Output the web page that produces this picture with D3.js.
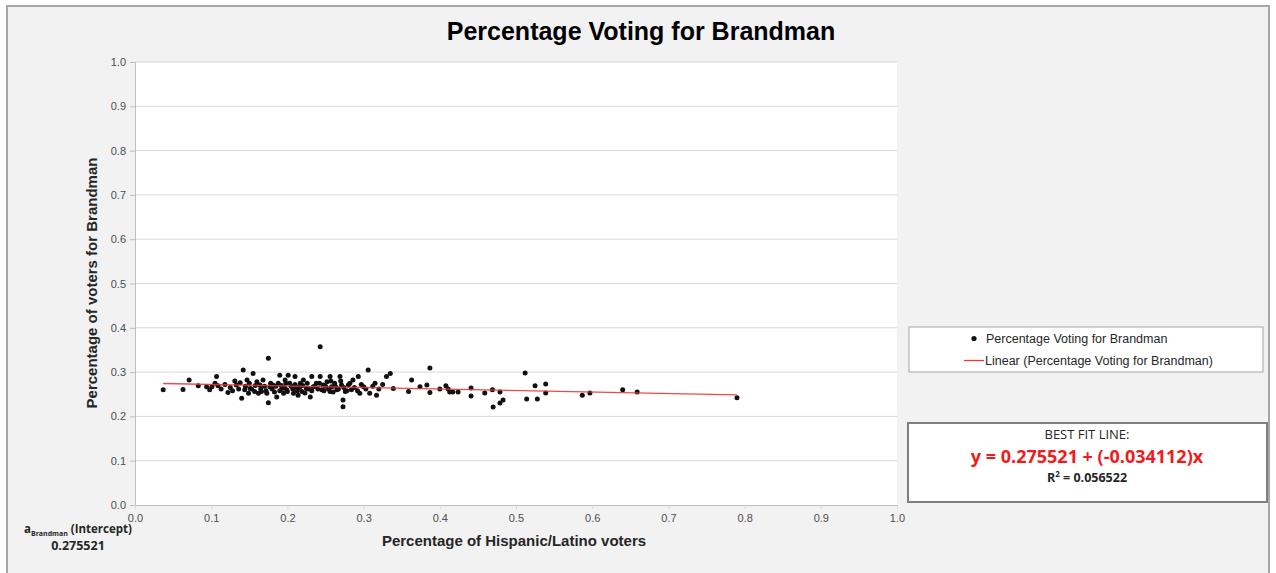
<!DOCTYPE html>
<html><head><meta charset="utf-8">
<script src="https://cdn.jsdelivr.net/npm/d3@7"></script>
<style>body{margin:0;background:#fff;}svg{display:block;}</style>
</head><body>
<script>
const title = "Percentage Voting for Brandman";
const xLabel = "Percentage of Hispanic/Latino voters";
const yLabel = "Percentage of voters for Brandman";
const seriesName = "Percentage Voting for Brandman";
const trendName = "Linear (Percentage Voting for Brandman)";
const xTicks = [0,0.1,0.2,0.3,0.4,0.5,0.6,0.7,0.8,0.9,1.0];
const yTicks = [0,0.1,0.2,0.3,0.4,0.5,0.6,0.7,0.8,0.9,1.0];
const intercept = 0.275521;
const slope = -0.034112;
const rSquared = 0.056522;
const hispanicShare = [
.037,.063,.071,.083,.094,.098,.101,.105,.107,.109,.122,.133,.138,.140,.142,.144,.147,.149,.151,.155,
.157,.162,.164,.166,.168,.173,.175,.175,.177,.181,.186,.188,.190,.193,.195,.197,.199,.201,.203,.208,
.210,.212,.214,.217,.219,.221,.225,.230,.232,.234,.238,.243,.243,.245,.247,.252,.256,.256,.258,.262,
.265,.269,.271,.273,.273,.276,.280,.284,.286,.293,.295,.300,.306,.308,.315,.317,.330,.335,.339,.359,
.363,.374,.383,.387,.387,.400,.408,.411,.413,.417,.424,.441,.441,.459,.469,.479,.470,.479,.483,.512,
.514,.528,.525,.539,.539,.587,.597,.640,.659,.790,
.145,.150,.153,.158,.160,.165,.170,.172,.178,.180,.183,.185,.190,.192,.196,.198,.200,.205,.207,.210,
.213,.216,.220,.223,.226,.228,.232,.236,.240,.242,.248,.250,.254,.257,.260,.263,.267,.270,.274,.278,
.282,.288,.292,.297,.303,.312,.320,.325,.113,.118,.125,.128,.131,.136
];
const brandmanShare = [
.260,.261,.282,.269,.267,.260,.267,.275,.290,.269,.254,.271,.276,.241,.305,.260,.282,.252,.263,.297,
.256,.252,.271,.256,.282,.252,.331,.231,.267,.271,.244,.275,.293,.263,.252,.282,.260,.293,.275,.252,
.290,.267,.248,.275,.256,.282,.263,.244,.290,.267,.275,.357,.290,.260,.271,.278,.290,.256,.267,.275,
.260,.290,.271,.237,.222,.256,.271,.260,.282,.290,.252,.267,.305,.252,.275,.248,.290,.297,.263,.256,
.282,.267,.271,.309,.254,.262,.269,.262,.255,.255,.255,.264,.246,.253,.260,.255,.221,.230,.237,.298,
.239,.239,.269,.273,.253,.248,.253,.260,.255,.242,
.268,.275,.262,.270,.278,.262,.268,.258,.275,.262,.255,.268,.258,.270,.265,.275,.256,.268,.262,.272,
.258,.265,.270,.253,.275,.262,.258,.268,.262,.275,.258,.268,.262,.280,.255,.268,.262,.280,.265,.258,
.275,.265,.258,.272,.262,.268,.262,.272,.262,.272,.265,.258,.280,.262
];

const W = 1276, H = 573;
const svg = d3.select("body").append("svg").attr("width", W).attr("height", H);

// chart frame
svg.append("rect").attr("x", 7).attr("y", 6).attr("width", 1262).attr("height", 580)
  .attr("fill", "#f2f2f2").attr("stroke", "#a6a6a6").attr("stroke-width", 2);

const x = d3.scaleLinear().domain([0, 1]).range([135, 897]);
const y = d3.scaleLinear().domain([0, 1]).range([505, 62]);

// plot area
svg.append("rect").attr("x", x(0)).attr("y", y(1)).attr("width", x(1) - x(0)).attr("height", y(0) - y(1))
  .attr("fill", "#ffffff");

// gridlines
svg.append("g").selectAll("line").data(yTicks.filter(d => d > 0)).join("line")
  .attr("x1", x(0)).attr("x2", x(1)).attr("y1", d => y(d)).attr("y2", d => y(d))
  .attr("stroke", "#d9d9d9").attr("stroke-width", 1);

const font = "Arial, 'Liberation Sans', sans-serif";
const font2 = "'Open Sans', sans-serif";

// y axis
const yAxis = svg.append("g").attr("transform", `translate(${x(0)},0)`)
  .call(d3.axisLeft(y).tickValues(yTicks).tickFormat(d3.format(".1f")).tickSize(5).tickPadding(4));
yAxis.select(".domain").attr("stroke", "#bfbfbf");
yAxis.selectAll(".tick line").attr("stroke", "#bfbfbf");
yAxis.selectAll("text").attr("font-family", font).attr("font-size", 11).attr("fill", "#4d4d4d");

// x axis
const xAxis = svg.append("g").attr("transform", `translate(0,${y(0)})`)
  .call(d3.axisBottom(x).tickValues(xTicks).tickFormat(d3.format(".1f")).tickSize(4).tickPadding(5));
xAxis.select(".domain").attr("stroke", "#bfbfbf");
xAxis.selectAll(".tick line").attr("stroke", "#d9d9d9");
xAxis.selectAll("text").attr("font-family", font).attr("font-size", 11).attr("fill", "#4d4d4d");

// points
const pts = hispanicShare.map((v, i) => [v, brandmanShare[i]]);
svg.append("g").selectAll("circle").data(pts).join("circle")
  .attr("cx", d => x(d[0])).attr("cy", d => y(d[1])).attr("r", 2.5).attr("fill", "#111");

// trend line
const xMin = d3.min(hispanicShare), xMax = d3.max(hispanicShare);
svg.append("line")
  .attr("x1", x(xMin)).attr("y1", y(intercept + slope * xMin))
  .attr("x2", x(xMax)).attr("y2", y(intercept + slope * xMax))
  .attr("stroke", "#e8363a").attr("stroke-width", 1.3).attr("stroke-opacity", 0.9);

// title
svg.append("text").attr("x", 641).attr("y", 40).attr("text-anchor", "middle")
  .attr("font-family", font).attr("font-weight", "bold").attr("font-size", 25).attr("fill", "#000")
  .text(title);

// axis titles
svg.append("text").attr("transform", "translate(97,283) rotate(-90)").attr("text-anchor", "middle")
  .attr("font-family", font).attr("font-weight", "bold").attr("font-size", 15).attr("fill", "#262626")
  .text(yLabel);
svg.append("text").attr("x", 514).attr("y", 546).attr("text-anchor", "middle")
  .attr("font-family", font).attr("font-weight", "bold").attr("font-size", 15).attr("fill", "#262626")
  .text(xLabel);

// legend
const lg = svg.append("g");
lg.append("rect").attr("x", 909).attr("y", 327).attr("width", 354).attr("height", 45)
  .attr("fill", "#fff").attr("stroke", "#a6a6a6").attr("stroke-width", 1);
lg.append("circle").attr("cx", 974).attr("cy", 338.5).attr("r", 2.6).attr("fill", "#111");
lg.append("text").attr("x", 986).attr("y", 343).attr("font-family", font).attr("font-size", 12.5)
  .attr("fill", "#262626").text(seriesName);
lg.append("line").attr("x1", 964).attr("x2", 984).attr("y1", 360.5).attr("y2", 360.5)
  .attr("stroke", "#e8363a").attr("stroke-width", 1.3);
lg.append("text").attr("x", 985).attr("y", 365).attr("font-family", font).attr("font-size", 12.5)
  .attr("fill", "#262626").text(trendName);

// best fit box
const bf = svg.append("g");
bf.append("rect").attr("x", 908).attr("y", 423).attr("width", 359).attr("height", 79)
  .attr("fill", "#fff").attr("stroke", "#7f7f7f").attr("stroke-width", 2);
bf.append("text").attr("x", 1087).attr("y", 439).attr("text-anchor", "middle")
  .attr("font-family", font2).attr("font-size", 13).attr("fill", "#262626")
  .text("BEST FIT LINE:");
bf.append("text").attr("x", 1087).attr("y", 463).attr("text-anchor", "middle")
  .attr("font-family", font2).attr("font-weight", "bold").attr("font-size", 18)
  .attr("fill", "#ee1c1c")
  .text(`y = ${intercept} + (${slope})x`);
const r2 = bf.append("text").attr("x", 1087).attr("y", 482).attr("text-anchor", "middle")
  .attr("font-family", font2).attr("font-weight", "bold").attr("font-size", 12.5)
  .attr("fill", "#262626");
r2.append("tspan").text("R");
r2.append("tspan").attr("dy", -5).attr("font-size", 8).text("2");
r2.append("tspan").attr("dy", 5).text(` = ${rSquared}`);

// intercept note
const note = svg.append("text").attr("x", 24).attr("y", 533)
  .attr("font-family", font2).attr("font-weight", "bold").attr("font-size", 11.5)
  .attr("fill", "#262626");
note.append("tspan").text("a");
note.append("tspan").attr("dy", 3).attr("font-size", 7).text("Brandman");
note.append("tspan").attr("dy", -3).text(" (Intercept)");
svg.append("text").attr("x", 78).attr("y", 550).attr("text-anchor", "middle")
  .attr("font-family", font2).attr("font-weight", "bold").attr("font-size", 12.5)
  .attr("fill", "#262626").text(String(intercept));
</script>
</body></html>
